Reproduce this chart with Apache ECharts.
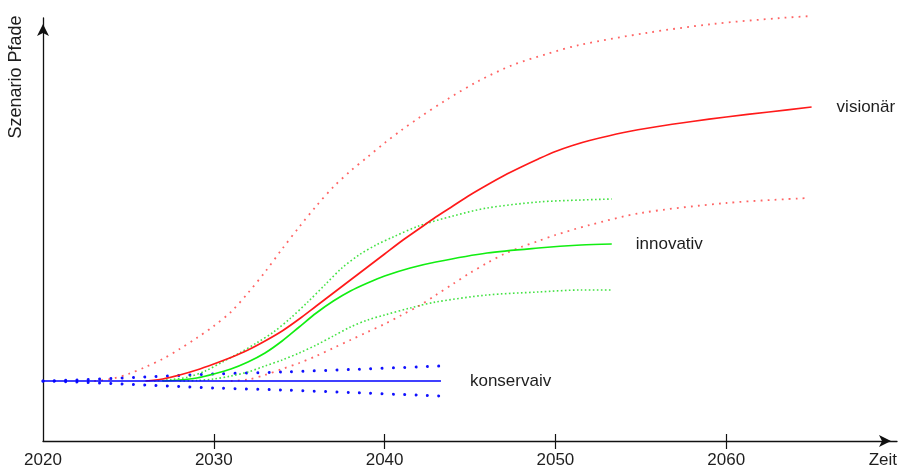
<!DOCTYPE html>
<html><head><meta charset="utf-8">
<script src="https://cdn.jsdelivr.net/npm/echarts@6/dist/echarts.min.js"></script>
<style>html,body{margin:0;padding:0;background:#fff}#c{width:900px;height:471px}</style>
</head><body><div id="c"></div>
<script>
// x axis ticks
const xTicks = [2030, 2040, 2050, 2060];
const xMin = 2020, xMax = 2070;

// visionär (red)
const visYears  = [2026, 2027, 2028, 2029, 2030, 2031, 2032, 2033, 2034, 2035, 2036, 2037, 2038, 2039, 2040, 2041, 2042, 2043, 2044, 2045, 2046, 2047, 2048, 2049, 2050, 2051, 2052, 2054, 2056, 2058, 2060, 2062.5, 2065];
const visValues = [57, 59, 63, 68, 74, 80.5, 88, 97, 107, 119, 132, 145, 158, 171, 184, 197, 209, 221, 232, 243, 253, 262.5, 271, 279, 286.5, 292.5, 297.5, 305.5, 311.5, 316.5, 321, 326, 331];
const visHighYears  = [2023, 2024, 2025, 2026, 2027, 2028, 2029, 2030, 2031, 2032, 2033, 2034, 2035, 2036, 2037, 2038, 2039, 2040, 2041, 2042, 2043.6, 2045.5, 2047.5, 2049.5, 2051.4, 2055.3, 2059.2, 2063.2, 2065];
const visHighValues = [57, 59, 64, 71, 79, 89, 100, 112, 126, 145, 166, 189, 211, 232, 251, 267, 281, 295, 308, 320, 338, 357, 373, 384, 393, 405, 414, 420, 422];
const visLowYears  = [2031, 2032, 2033, 2034, 2035, 2036, 2037, 2038, 2039, 2040, 2041, 2042, 2043, 2044, 2045, 2046, 2047, 2048, 2049, 2050, 2052, 2055, 2060, 2064.8];
const visLowValues = [57, 58.5, 63, 69, 75, 82, 90, 98, 106, 114, 123, 132, 143, 154, 165, 175, 184, 191, 197, 203, 213, 225, 235, 240];

// innovativ (green)
const innYears  = [2027, 2028, 2029, 2030, 2031, 2032, 2033, 2034, 2035, 2036, 2037, 2038, 2039, 2040, 2041.5, 2043, 2046, 2049, 2051.5, 2053.3];
const innValues = [57, 58, 60, 64, 69, 76, 85, 97, 111, 125, 137, 147, 155, 162, 170, 176, 185, 190, 193, 194];
const innHighYears  = [2026.5, 2027.5, 2028.5, 2029.5, 2030.5, 2031.5, 2032.5, 2033.5, 2034.5, 2035.5, 2036.5, 2037.5, 2038.5, 2039.5, 2040.5, 2042, 2044, 2046, 2049, 2051.5, 2053.3];
const innHighValues = [57, 58.5, 61, 67, 76, 85, 95, 106, 120, 136, 153, 170, 183, 193, 201, 212, 222, 230, 236, 238, 239];
const innLowYears  = [2028, 2029, 2030, 2031, 2032, 2033, 2034, 2035, 2036, 2037, 2038, 2039, 2040, 2041.5, 2043, 2046, 2049, 2051.5, 2053.3];
const innLowValues = [57, 57.5, 59, 62, 66, 72, 78, 85, 93, 102, 111, 118, 123, 130, 136, 143, 146, 148, 148];

// konservaiv (blue)
const konYears  = [2020, 2043.3];
const konValues = [57, 57];
const konBandYears  = [2020, 2022, 2024, 2026, 2028, 2030, 2034, 2038, 2043.3];
const konHighValues = [57, 58, 59.5, 61, 62.5, 64, 66, 68.5, 72];
const konLowValues  = [57, 56, 54.5, 53, 51.5, 50, 48, 45.5, 42];

const FONT = 'Liberation Sans, Arial, sans-serif';
const TXT = '#1e1e1e';
function zip(xs, ys) { return xs.map((x, i) => [x, ys[i]]); }

function dotted(xs, ys, color, width, dash, cap, opacity) {
  return {
    type: 'line', data: zip(xs, ys), showSymbol: false, smooth: 0.3,
    clip: false, silent: true,
    lineStyle: { color: color, width: width, type: dash, cap: cap, opacity: opacity }
  };
}
function solid(name, xs, ys, color, width, dist) {
  return {
    name: name, type: 'line', data: zip(xs, ys), showSymbol: false, smooth: 0.3,
    clip: false, silent: true,
    lineStyle: { color: color, width: width },
    endLabel: { show: true, formatter: name, distance: dist, color: TXT, fontFamily: FONT, fontSize: 17 }
  };
}

const chart = echarts.init(document.getElementById('c'), null, { renderer: 'canvas' });
chart.setOption({
  animation: false,
  backgroundColor: '#fff',
  grid: { left: 43, right: 3, top: 18, bottom: 30, containLabel: false },
  xAxis: [{
    type: 'value', min: xMin, max: xMax, interval: 10,
    axisLine: { show: true, onZero: false, symbol: ['none', 'arrow'], symbolSize: [9, 12], symbolOffset: [0, -6],
      lineStyle: { color: '#111', width: 1.3 } },
    axisTick: { show: true, length: 8, customValues: xTicks, lineStyle: { color: '#111', width: 1.2 } },
    axisLabel: { show: true, margin: 11, color: TXT, fontFamily: FONT, fontSize: 17, alignMaxLabel: 'right',
      formatter: function (v) { return v === xMax ? 'Zeit' : String(v); } },
    splitLine: { show: false }
  }, {
    type: 'value', min: xMin, max: xMax, interval: 10, position: 'bottom',
    axisLine: { show: false, onZero: false },
    axisTick: { show: true, inside: true, length: 7, customValues: xTicks, lineStyle: { color: '#111', width: 1.2 } },
    axisLabel: { show: false },
    splitLine: { show: false }
  }],
  yAxis: {
    type: 'value', min: -3, max: 420,
    axisLine: { show: true, onZero: false, symbol: ['none', 'arrow'], symbolSize: [9, 12], symbolOffset: [0, -6],
      lineStyle: { color: '#111', width: 1.3 } },
    axisTick: { show: false }, axisLabel: { show: false }, splitLine: { show: false }
  },
  graphic: [{
    type: 'text', x: 16, y: 77, rotation: Math.PI / 2,
    style: { text: 'Szenario Pfade', fontSize: 18, fontFamily: FONT, fill: TXT, align: 'center', verticalAlign: 'middle' }
  }],
  series: [
    dotted(konBandYears, konHighValues, '#1010ff', 3, [0.01, 11.3], 'round', 1),
    dotted(konBandYears, konLowValues, '#1010ff', 3, [0.01, 11.3], 'round', 1),
    dotted(innHighYears, innHighValues, '#22dd22', 1.6, [1.6, 2.4], 'butt', 0.85),
    dotted(innLowYears, innLowValues, '#22dd22', 1.6, [1.6, 2.4], 'butt', 0.85),
    dotted(visHighYears, visHighValues, '#ff3030', 1.8, [1.8, 5.2], 'butt', 0.75),
    dotted(visLowYears, visLowValues, '#ff3030', 1.8, [1.8, 5.2], 'butt', 0.75),
    solid('innovativ', innYears, innValues, '#11ee11', 1.7, 24),
    solid('visionär', visYears, visValues, '#ff1a1a', 1.7, 25),
    solid('konservaiv', konYears, konValues, '#0000ff', 1.5, 29)
  ]
});
</script>
</body></html>
